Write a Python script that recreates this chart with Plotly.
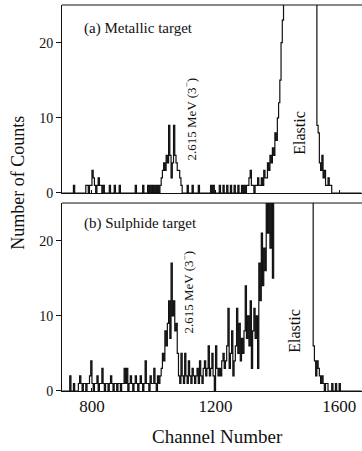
import plotly.graph_objects as go

# Spectra binned in 4-channel steps starting at channel 704
START_CHANNEL = 704
BIN_WIDTH = 4

# (a) metallic target, counts per bin
metallic_counts = [
    0, 0, 0, 0, 0, 0, 0, 0, 0, 1,
    0, 0, 0, 0, 0, 0, 0, 0, 0, 1,
    1, 0, 1, 1, 3, 2, 1, 0, 1, 2,
    1, 1, 0, 1, 0, 0, 0, 0, 1, 0,
    0, 0, 1, 0, 0, 0, 1, 0, 0, 0,
    0, 0, 0, 0, 0, 0, 0, 0, 0, 1,
    0, 0, 0, 0, 0, 1, 0, 0, 0, 1,
    0, 1, 0, 1, 0, 1, 0, 1, 0, 1,
    2, 3, 4, 3, 5, 4, 9, 5, 2, 4,
    9, 5, 4, 3, 3, 2, 1, 0, 0, 0,
    0, 1, 0, 0, 0, 1, 0, 0, 0, 0,
    1, 0, 0, 0, 0, 0, 0, 0, 0, 0,
    1, 0, 1, 0, 0, 0, 0, 1, 0, 0,
    1, 0, 0, 1, 0, 0, 1, 0, 0, 1,
    0, 0, 1, 0, 0, 1, 0, 1, 0, 1,
    1, 2, 3, 1, 1, 0, 1, 1, 2, 1,
    1, 2, 1, 3, 2, 2, 4, 3, 5, 4,
    6, 5, 8, 7, 10, 12, 15, 20, 23, 28,
    45, 70, 110, 160, 220, 290, 360, 420, 470, 500,
    510, 500, 470, 430, 380, 320, 260, 200, 150, 110,
    80, 60, 45, 35, 30, 28, 9, 8, 4, 3,
    5, 2, 3, 1, 1, 2, 1, 1, 0, 0,
    0, 0, 0, 0, 0, 0, 0, 0, 0, 0,
    0, 0, 0, 0, 0, 0, 0, 0, 0, 0,
    0, 0, 0,
]

# (b) sulphide target, counts per bin
sulphide_counts = [
    0, 0, 0, 0, 0, 0, 2, 0, 0, 1,
    0, 0, 0, 1, 2, 1, 0, 1, 1, 0,
    1, 1, 2, 4, 1, 0, 1, 1, 2, 0,
    1, 1, 3, 1, 0, 1, 1, 0, 1, 2,
    1, 0, 1, 1, 0, 1, 1, 0, 1, 1,
    3, 1, 3, 0, 1, 2, 1, 0, 1, 2,
    1, 0, 1, 2, 1, 0, 1, 4, 1, 1,
    0, 2, 1, 1, 3, 1, 0, 2, 1, 2,
    3, 5, 4, 8, 6, 9, 12, 7, 17, 10,
    12, 8, 9, 5, 2, 1, 5, 2, 1, 5,
    2, 1, 4, 2, 1, 3, 2, 1, 2, 3,
    1, 4, 2, 1, 3, 4, 2, 3, 6, 2,
    3, 5, 2, 0, 6, 3, 2, 3, 2, 4,
    5, 3, 4, 6, 11, 3, 5, 8, 2, 4,
    6, 11, 5, 9, 4, 7, 5, 8, 14, 7,
    10, 6, 12, 3, 8, 11, 7, 10, 3, 17,
    12, 21, 14, 19, 16, 28, 21, 30, 19, 27,
    15, 35, 40, 48, 55, 60, 58, 52, 50, 55,
    70, 100, 160, 250, 360, 470, 560, 610, 620, 590,
    530, 450, 360, 270, 190, 130, 90, 70, 55, 45,
    40, 35, 30, 6, 4, 2, 4, 3, 2, 1,
    2, 1, 0, 1, 1, 0, 0, 0, 1, 0,
    0, 1, 0, 0, 1, 0, 0, 0, 0, 0,
    0, 0, 0, 0, 0, 0, 0, 0, 0, 0,
    0, 0, 0,
]

x_ticks = [800, 1200, 1600]
y_ticks = [0, 10, 20]
x_range = [703, 1674]
y_range = [0, 25]

panel_labels = ["(a) Metallic target", "(b) Sulphide target"]
state_label = "2.615 MeV (3<sup>−</sup>)"
elastic_label = "Elastic"

SERIF = "Liberation Serif"
INK = "#111111"


def channels(counts):
    return [START_CHANNEL + BIN_WIDTH * i for i in range(len(counts))]


fig = go.Figure()
fig.add_trace(go.Scatter(x=channels(metallic_counts), y=metallic_counts,
                         mode="lines", line=dict(shape="hv", color=INK, width=1.2),
                         xaxis="x", yaxis="y", showlegend=False, hoverinfo="skip"))
fig.add_trace(go.Scatter(x=channels(sulphide_counts), y=sulphide_counts,
                         mode="lines", line=dict(shape="hv", color=INK, width=1.2),
                         xaxis="x2", yaxis="y2", showlegend=False, hoverinfo="skip"))

xaxis_common = dict(range=x_range, tickvals=x_ticks, ticks="inside", ticklen=3,
                    tickcolor=INK, showline=True, linecolor=INK, linewidth=1,
                    showgrid=False, zeroline=False,
                    tickfont=dict(family=SERIF, size=17, color=INK))
yaxis_common = dict(range=y_range, tickvals=y_ticks, ticks="outside", ticklen=5,
                    tickcolor=INK, showline=True, linecolor=INK, linewidth=1,
                    showgrid=False, zeroline=False,
                    tickfont=dict(family=SERIF, size=14, color=INK))

fig.update_layout(
    width=362, height=451,
    margin=dict(l=62, r=0, t=5, b=60),
    paper_bgcolor="white", plot_bgcolor="white",
    xaxis=dict(xaxis_common, anchor="y", showticklabels=False),
    yaxis=dict(yaxis_common, anchor="x", domain=[0.513, 1.0]),
    xaxis2=dict(xaxis_common, anchor="y2", matches="x"),
    yaxis2=dict(yaxis_common, anchor="x2", domain=[0.0, 0.487]),
)

# top borders of both panels (no right-hand frame)
for yref in ["y domain", "y2 domain"]:
    fig.add_shape(type="line", xref="paper", yref=yref, x0=0, x1=1, y0=1, y1=1,
                  line=dict(color=INK, width=1))

txt = dict(family=SERIF, color=INK)

# panel titles
fig.add_annotation(x=768, y=21.9, xref="x", yref="y", text=panel_labels[0],
                   showarrow=False, xanchor="left", yanchor="middle",
                   font=dict(txt, size=15))
fig.add_annotation(x=768, y=22.3, xref="x2", yref="y2", text=panel_labels[1],
                   showarrow=False, xanchor="left", yanchor="middle",
                   font=dict(txt, size=15))

# peak labels
fig.add_annotation(x=1117, y=9.9, xref="x", yref="y", text=state_label,
                   showarrow=False, textangle=-90, xanchor="center",
                   yanchor="middle", font=dict(txt, size=13))
fig.add_annotation(x=1111, y=13.1, xref="x2", yref="y2", text=state_label,
                   showarrow=False, textangle=-90, xanchor="center",
                   yanchor="middle", font=dict(txt, size=13))
fig.add_annotation(x=1473, y=8.0, xref="x", yref="y", text=elastic_label,
                   showarrow=False, textangle=-90, xanchor="center",
                   yanchor="middle", font=dict(txt, size=16))
fig.add_annotation(x=1457, y=8.0, xref="x2", yref="y2", text=elastic_label,
                   showarrow=False, textangle=-90, xanchor="center",
                   yanchor="middle", font=dict(txt, size=16))

# axis titles
fig.add_annotation(x=-0.147, y=0.539, xref="paper", yref="paper",
                   text="Number of Counts", showarrow=False, textangle=-90,
                   xanchor="center", yanchor="middle", font=dict(txt, size=18))
fig.add_annotation(x=0.518, y=-0.119, xref="paper", yref="paper",
                   text="Channel Number", showarrow=False,
                   xanchor="center", yanchor="middle", font=dict(txt, size=19))

fig.write_html("out.html")
